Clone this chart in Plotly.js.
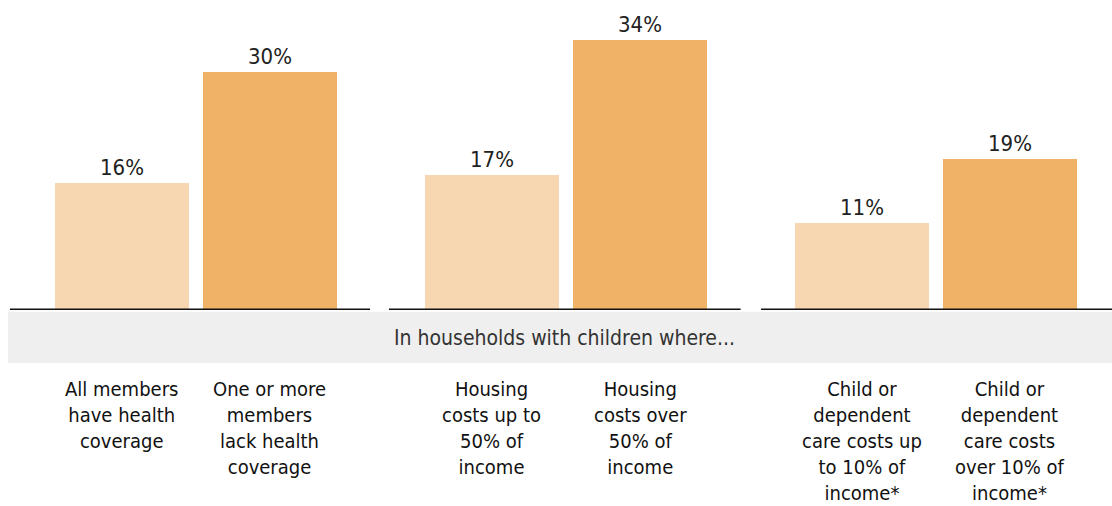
<!DOCTYPE html>
<html><head><meta charset="utf-8">
<script src="https://cdn.plot.ly/plotly-3.0.1.min.js"></script>
<style>html,body{margin:0;padding:0;background:#fff;}#chart{width:1112px;height:506px;}</style>
</head><body><div id="chart"></div>
<script>
const categories = [
  "All members<br>have health<br>coverage",
  "One or more<br>members<br>lack health<br>coverage",
  "Housing<br>costs up to<br>50% of<br>income",
  "Housing<br>costs over<br>50% of<br>income",
  "Child or<br>dependent<br>care costs up<br>to 10% of<br>income*",
  "Child or<br>dependent<br>care costs<br>over 10% of<br>income*"
];
const groupIndex = [0, 0, 1, 1, 2, 2];
const withinIndex = [0, 1, 0, 1, 0, 1];
const values = [16, 30, 17, 34, 11, 19];
const valueLabels = ["16%", "30%", "17%", "34%", "11%", "19%"];
const groupTitle = "In households with children where...";

const FONT = "'DejaVu Sans Condensed', 'Roboto', sans-serif";
const GAP = 2.5;
const xs = values.map((v, i) => groupIndex[i] * GAP + withinIndex[i]);
const colors = withinIndex.map(j => j === 0 ? "#F7D7B1" : "#F0B266");

const trace = {
  type: "bar", x: xs, y: values, width: 0.905,
  marker: {color: colors, line: {width: 0}},
  text: valueLabels, textposition: "outside", cliponaxis: false,
  textfont: {family: FONT, size: 22, color: "#222"},
  hoverinfo: "none"
};

const shapes = [{
  type: "rect", xref: "paper", yref: "paper", x0: 0.0072, x1: 1, y0: -0.006, y1: -0.171,
  fillcolor: "#EFEFEF", line: {width: 0}, layer: "below"
}];
const lineStart = [-0.757, -0.696, -0.682];
const lineEnd = [1.676, 1.68, 1.7];
[0, 1, 2].forEach(g => {
  shapes.push({type: "line", xref: "x", yref: "y", x0: g * GAP + lineStart[g], x1: g * GAP + lineEnd[g], y0: 0, y1: 0,
    line: {color: "#111", width: 3}});
});

const annotations = [{
  text: groupTitle, xref: "paper", yref: "paper", x: 0.508, y: -0.09, xanchor: "center", yanchor: "middle",
  showarrow: false, font: {family: FONT, size: 21, color: "#333"}
}];
categories.forEach((c, i) => {
  annotations.push({text: c, xref: "x", yref: "paper", x: xs[i], y: -0.21, xanchor: "center", yanchor: "top",
    showarrow: false, align: "center", font: {family: FONT, size: 20, color: "#111"}});
});

const layout = {
  width: 1112, height: 506,
  margin: {l: 0, r: 0, t: 0, b: 196},
  paper_bgcolor: "#fff", plot_bgcolor: "#fff",
  xaxis: {range: [-0.824, 6.689], showgrid: false, zeroline: false, showticklabels: false, showline: false, fixedrange: true},
  yaxis: {range: [0, 39], showgrid: false, zeroline: false, showticklabels: false, showline: false, fixedrange: true},
  shapes: shapes, annotations: annotations, showlegend: false, bargap: 0
};
Plotly.newPlot("chart", [trace], layout, {displayModeBar: false, staticPlot: true});
</script></body></html>
